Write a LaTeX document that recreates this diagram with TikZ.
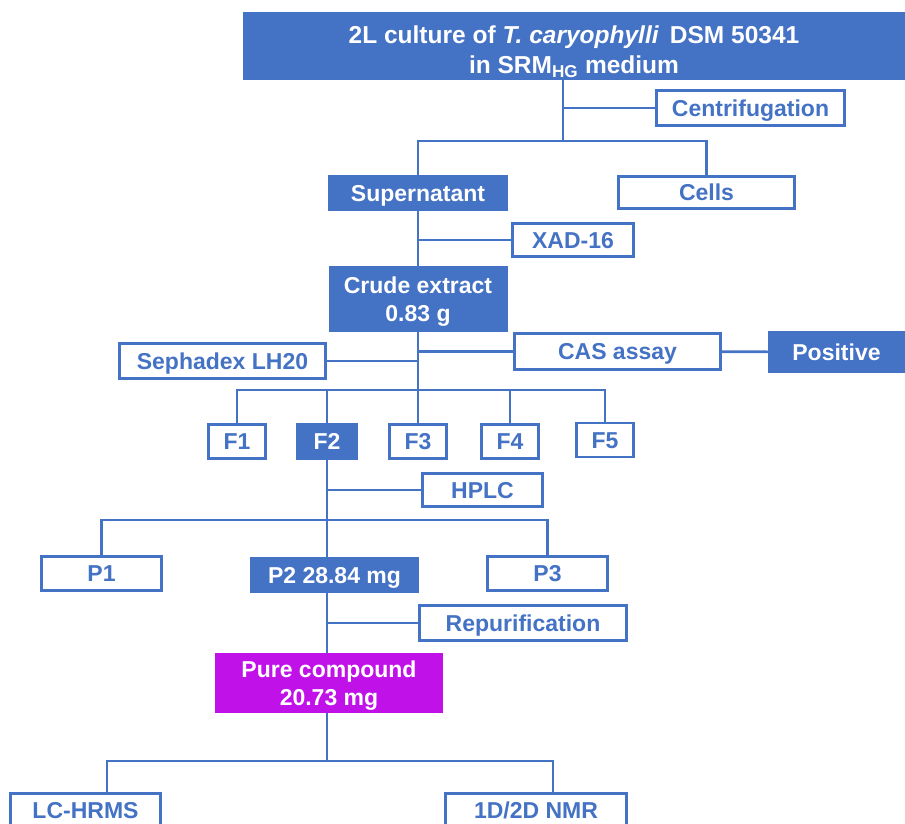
\documentclass[tikz,border=0pt]{standalone}
\usepackage{fontspec}
\setmainfont{Liberation Sans}
\usepackage{tikz}
\definecolor{boxblue}{RGB}{68,114,196}
\definecolor{pure}{RGB}{192,18,232}
\newcommand{\twolines}[2]{\begin{tabular}[t]{@{}c@{}}#1\\#2\end{tabular}}

\begin{document}
\begin{tikzpicture}[x=1pt, y=-1pt,
    every node/.style={font=\bfseries\fontsize{23}{28}\selectfont, inner sep=0pt, text height=20.5pt, text depth=4pt},
    solidbox/.style={fill=boxblue, text=white},
    linebox/.style={draw=boxblue, line width=2.7pt, fill=white, text=boxblue},
    twoline/.style={text depth=31pt},
    link/.style={draw=boxblue, line width=2.7pt}]
    \useasboundingbox (0,0) rectangle (905,823);
    % boxes
    \node[solidbox, font=\bfseries\fontsize{24.5}{30}\selectfont, text depth=25.9pt, minimum width=662pt, minimum height=68pt] (culture) at (574,46) {\twolines{2L culture of \textit{T. caryophylli}\, DSM 50341}{in SRM\textsubscript{HG} medium}};
    \node[linebox, minimum width=188pt, minimum height=35pt] (centrif) at (750.5,108) {Centrifugation};
    \node[solidbox, minimum width=180pt, minimum height=36pt] (sup) at (418,193) {Supernatant};
    \node[linebox, minimum width=176pt, minimum height=32pt] (cells) at (706.5,192.5) {Cells};
    \node[linebox, minimum width=121pt, minimum height=33pt] (xad) at (573,240) {XAD-16};
    \node[solidbox, twoline, minimum width=179pt, minimum height=66pt] (crude) at (418,299) {\twolines{Crude extract}{0.83 g}};
    \node[linebox, minimum width=206pt, minimum height=36pt] (cas) at (617.5,351.5) {CAS assay};
    \node[solidbox, minimum width=137pt, minimum height=42pt] (pos) at (836.5,352) {Positive};
    \node[linebox, minimum width=206pt, minimum height=35pt] (seph) at (222.5,361) {Sephadex LH20};
    \foreach \f/\x/\y/\sty in {f1/237/441.5/linebox, f3/418/441.5/linebox, f4/510/441.5/linebox, f5/605/440/linebox} {
        \node[\sty, minimum width=57pt, minimum height=34pt] (\f) at (\x,\y) {\MakeUppercase{\f}};
    }
    \node[solidbox, minimum width=62pt, minimum height=37pt] (f2) at (327,441.5) {F2};
    \node[linebox, minimum width=120pt, minimum height=33pt] (hplc) at (482.5,490) {HPLC};
    \node[linebox, minimum width=120pt, minimum height=34pt] (p1) at (101.5,573.5) {P1};
    \node[solidbox, minimum width=169pt, minimum height=36pt] (p2) at (334.5,575) {P2 28.84 mg};
    \node[linebox, minimum width=120pt, minimum height=34pt] (p3) at (547.5,573.5) {P3};
    \node[linebox, minimum width=207pt, minimum height=35pt] (repur) at (523,623) {Repurification};
    \node[fill=pure, text=white, twoline, minimum width=228pt, minimum height=60pt] (cmpd) at (329,683) {\twolines{Pure compound}{20.73 mg}};
    \node[linebox, minimum width=150pt, minimum height=34pt] (lc) at (85.5,810.5) {LC-HRMS};
    \node[linebox, minimum width=181pt, minimum height=34pt] (nmr) at (536,810.5) {1D/2D NMR};
    % connectors
    \coordinate (j1) at (563,141);
    \draw[link] (culture.south -| j1) -- (j1);
    \draw[link] (centrif.west) -- (centrif.west -| j1);
    \draw[link] (sup.north) |- (j1) -| (cells.north);
    \draw[link] (sup) -- (crude);
    \draw[link] (xad.west) -- (xad.west -| sup);
    \coordinate (j2) at (418,390);
    \draw[link] (crude) -- (j2);
    \draw[link] (cas.west) -- (cas.west -| crude);
    \draw[link] (seph.east) -- (seph.east -| crude);
    \draw[link] (cas) -- (pos);
    \foreach \f in {f1,f2,f3,f4,f5}
        \draw[link] (j2) -| (\f.north);
    \coordinate (j3) at (327,520);
    \draw[link] (f2) -- (j3);
    \draw[link] (hplc.west) -- (hplc.west -| f2);
    \draw[link] (j3) -| (p1.north);
    \draw[link] (j3) -| (p3.north);
    \draw[link] (j3) -- (j3 |- p2.north);
    \draw[link] (p2.south -| j3) -- (cmpd.north -| j3);
    \draw[link] (repur.west) -- (repur.west -| j3);
    \coordinate (j4) at (327,761);
    \draw[link] (cmpd.south -| j4) -- (j4);
    \draw[link] (j4) -| ([xshift=21.5pt]lc.north);
    \draw[link] (j4) -| ([xshift=17pt]nmr.north);
\end{tikzpicture}
\end{document}
